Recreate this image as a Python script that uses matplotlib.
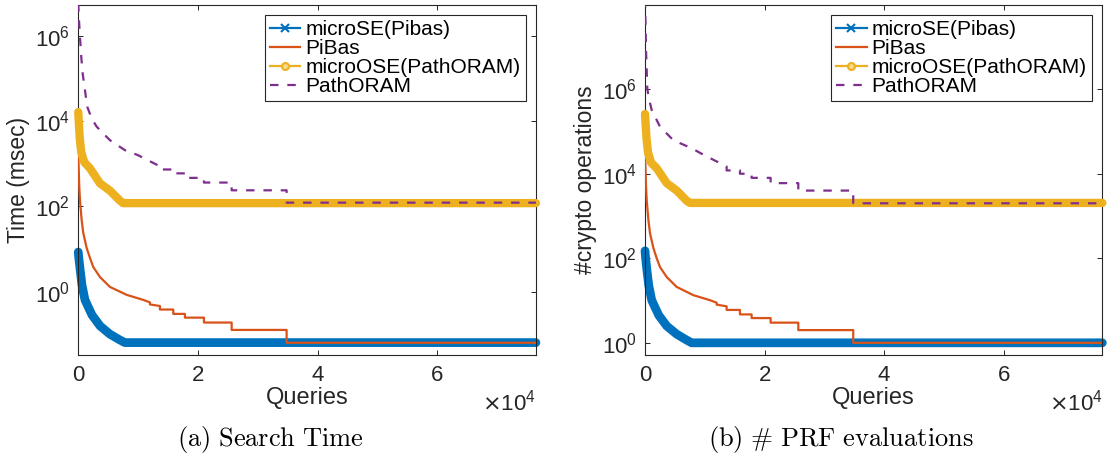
import matplotlib
matplotlib.use('Agg')
import matplotlib.pyplot as plt
from matplotlib.lines import Line2D

plt.rcParams['font.family'] = ['Liberation Sans', 'DejaVu Sans']

# couleurs MATLAB par defaut
c_blue = '#0072BD'
c_orange = '#D95319'
c_yellow = '#EDB120'
c_purple = '#7E2F8E'
c_axis = '#262626'

series_names = ['microSE(Pibas)', 'PiBas', 'microOSE(PathORAM)', 'PathORAM']
xtick_pos = [0, 20000, 40000, 60000]
xtick_labels = ['0', '2', '4', '6']

# (a) temps de recherche (msec)
blue_q_a = [0, 100, 280, 620, 1120, 2290, 3630, 5300, 6970, 7800, 76500]
blue_v_a = [8.5, 6.0, 3.6, 1.43, 0.64, 0.284, 0.157, 0.10, 0.073, 0.0635, 0.0635]

orange_q_a = [0, 170, 284, 568, 836, 1404, 1956, 2507, 3627, 5298, 8090, 10864, 11980, 11980,
              13650, 13650, 15880, 15880, 17830, 17830, 21010, 21010, 25640, 25640, 34830, 34830, 76500]
orange_v_a = [1600, 290, 142, 48, 23.9, 10.6, 6.2, 3.8, 2.2, 1.29, 0.84, 0.64, 0.56, 0.50,
              0.46, 0.38, 0.38, 0.30, 0.30, 0.245, 0.245, 0.188, 0.188, 0.126, 0.126, 0.063, 0.063]

yellow_q_a = [0, 100, 250, 500, 1000, 1955, 3630, 5300, 6970, 7500, 76500]
yellow_v_a = [16500, 9000, 4000, 1900, 1100, 790, 350, 235, 137, 120, 120]

purple_q_a = [0, 120, 284, 501, 735, 1120, 1504, 2240, 3075, 5298, 7805, 10000, 12000, 13650, 13650,
              15880, 15880, 17830, 17830, 21010, 21010, 25640, 25640, 34830, 34830, 76500]
purple_v_a = [6e6, 2.4e6, 1e6, 3.3e5, 1.34e5, 5.4e4, 2.2e4, 1.17e4, 7.5e3, 3.6e3, 2.1e3, 1.6e3, 1.15e3, 880, 740,
              740, 600, 600, 470, 470, 365, 365, 240, 240, 123, 123]

# (b) nombre d'evaluations PRF
blue_q_b = [0, 100, 280, 620, 1120, 2290, 3630, 5300, 6970, 7800, 76500]
blue_v_b = [150, 100, 58, 23, 10.2, 4.5, 2.5, 1.6, 1.16, 1.0, 1.0]

orange_q_b = orange_q_a
orange_v_b = [30000, 5000, 2350, 795, 390, 174, 100, 62, 36, 21, 13.4, 10.2, 8.9, 8.0,
              7.3, 6.0, 6.0, 4.7, 4.7, 3.85, 3.85, 3.0, 3.0, 2.0, 2.0, 1.0, 1.0]

yellow_q_b = [0, 100, 250, 500, 1000, 1955, 3630, 5300, 6970, 7500, 76500]
yellow_v_b = [2.6e5, 1.5e5, 6.8e4, 3.2e4, 1.85e4, 1.35e4, 6000, 4000, 2300, 2040, 2040]

purple_q_b = [0, 170, 385, 720, 1120, 2510, 4740, 7820, 10000, 12000, 13650, 13650, 15880, 15880,
              17830, 17830, 21010, 21010, 25640, 25640, 34830, 34830, 76500]
purple_v_b = [1.5e8, 8.3e6, 1e6, 5.5e5, 3.2e5, 1.3e5, 6.2e4, 4e4, 2.7e4, 1.95e4, 1.48e4, 1.2e4, 1.2e4, 1e4,
              1e4, 8e3, 8e3, 6e3, 6e3, 4e3, 4e3, 2e3, 2e3]


def draw_panel(ax, blue, orange, yellow, purple, ylim, yticks, ylabel, leg_anchor):
    # bandes epaisses (marqueurs denses dans l'original)
    ax.plot(blue[0], blue[1], color=c_blue, lw=6.3, solid_capstyle='round',
            solid_joinstyle='round', clip_on=False, zorder=2)
    ax.plot(orange[0], orange[1], color=c_orange, lw=1.6, zorder=3)
    ax.plot(yellow[0], yellow[1], color=c_yellow, lw=6.0, solid_capstyle='round',
            solid_joinstyle='round', clip_on=False, zorder=4)
    ax.plot(purple[0], purple[1], color=c_purple, lw=1.6, dashes=(3.8, 4.0), zorder=5)

    ax.set_yscale('log')
    ax.set_xlim(0, 76500)
    ax.set_ylim(*ylim)
    ax.set_yticks(yticks)
    ax.minorticks_off()
    ax.set_xticks(xtick_pos)
    ax.set_xticklabels(xtick_labels)
    ax.tick_params(direction='in', length=3.3, width=0.7, top=True, right=True,
                   labelsize=16, colors=c_axis, pad=7)
    ax.tick_params(axis='y', pad=6)
    for s in ax.spines.values():
        s.set_color(c_axis)
        s.set_linewidth(0.8)

    ax.set_xlabel('Queries', fontsize=17, color=c_axis, va='center')
    ax.xaxis.set_label_coords(0.5, -0.122)
    ax.set_ylabel(ylabel, fontsize=16.5, color=c_axis, va='center')
    ax.text(1.0, -0.135, r'$\times\mathdefault{10^{4}}$', transform=ax.transAxes,
            ha='right', va='center', fontsize=16, color=c_axis)

    handles = [
        Line2D([], [], color=c_blue, lw=1.6, marker='x', markersize=6, mew=1.5),
        Line2D([], [], color=c_orange, lw=1.6),
        Line2D([], [], color=c_yellow, lw=1.6, marker='o', markersize=5, mew=1.5, mfc='#f6d98f'),
        Line2D([], [], color=c_purple, lw=1.6, dashes=(3.8, 4.0)),
    ]
    leg = ax.legend(handles, series_names, loc='upper right', bbox_to_anchor=leg_anchor,
                    borderaxespad=0, fontsize=15, handlelength=1.45, handletextpad=0.25,
                    labelspacing=0.0, borderpad=0.25, fancybox=False, framealpha=1,
                    edgecolor=c_axis)
    leg.get_frame().set_linewidth(0.8)
    for t in leg.get_texts():
        t.set_color('black')


fig = plt.figure(figsize=(11.1, 4.65), dpi=100)
ax1 = fig.add_axes([0.0705, 0.2355, 0.4123, 0.7544])
ax2 = fig.add_axes([0.5811, 0.2355, 0.4120, 0.7544])

draw_panel(ax1, (blue_q_a, blue_v_a), (orange_q_a, orange_v_a), (yellow_q_a, yellow_v_a),
           (purple_q_a, purple_v_a), (10 ** -1.5, 10 ** 6.74), [1, 1e2, 1e4, 1e6],
           'Time (msec)', (0.978, 0.971))
ax1.yaxis.set_label_coords(-0.1296, 0.5)

draw_panel(ax2, (blue_q_b, blue_v_b), (orange_q_b, orange_v_b), (yellow_q_b, yellow_v_b),
           (purple_q_b, purple_v_b), (10 ** -0.3, 1e8), [1, 1e2, 1e4, 1e6],
           '#crypto operations', (0.9775, 0.971))
ax2.yaxis.set_label_coords(-0.131, 0.5)

fig.text(270 / 1110, 1 - 439 / 465, r'$\mathrm{(a)\ Search\ Time}$', math_fontfamily='cm',
         fontsize=19, ha='center', va='center')
fig.text(841 / 1110, 1 - 439 / 465, r'$\mathrm{(b)\ \#\ PRF\ evaluations}$', math_fontfamily='cm',
         fontsize=19, ha='center', va='center')

fig.savefig('out.png', dpi=100)
